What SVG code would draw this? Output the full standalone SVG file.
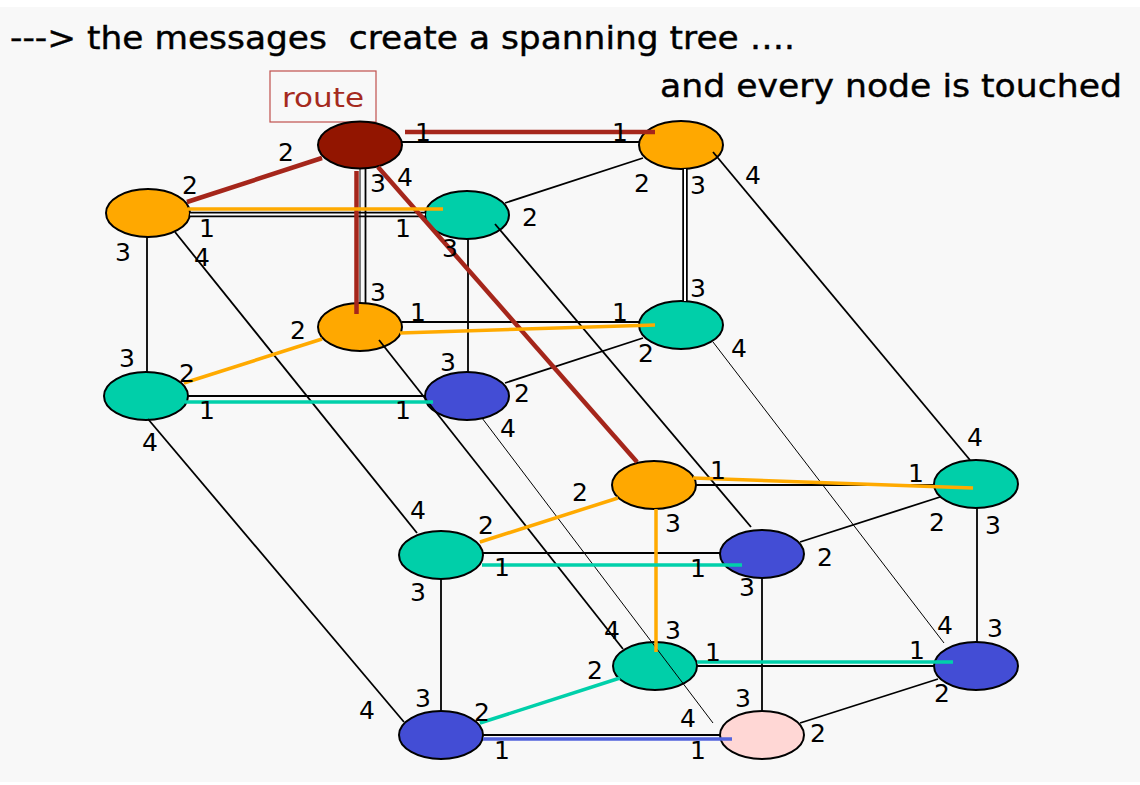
<svg xmlns="http://www.w3.org/2000/svg" width="1140" height="785" viewBox="0 0 1140 785">
<style>
.bg{fill:#f8f8f8}
.nd{stroke:#000;stroke-width:2}
.dr{fill:#921500}.or{fill:#ffa800}.gr{fill:#00cfa9}.bl{fill:#434dd5}.pk{fill:#ffd7d5}
.e{stroke:#000;stroke-width:1.8;fill:none}
.t{stroke:#000;stroke-width:1;fill:none}
.dbl{stroke:#000;stroke-width:5.5;fill:none}
.dblw{stroke:#fff;stroke-width:2;fill:none}
.r{stroke:#a5261b;stroke-width:4.5;fill:none}
.o{stroke:#ffaa00;stroke-width:3.5;fill:none}
.g{stroke:#00d0aa;stroke-width:3.5;fill:none}
.b{stroke:#5363dc;stroke-width:3.5;fill:none}
.lbl{font-family:"DejaVu Sans","Liberation Sans",sans-serif;font-size:25px;fill:#000;text-anchor:middle;dominant-baseline:central}
.title{font-family:"DejaVu Sans","Liberation Sans",sans-serif;font-size:32px;fill:#000;stroke:#000;stroke-width:0.4}
</style>
<rect x="0" y="0" width="1140" height="785" fill="#fff"/>
<rect class="bg" x="0" y="7" width="1140" height="775"/>

<g id="title">
<text class="title" x="10" y="49" textLength="785" lengthAdjust="spacingAndGlyphs" xml:space="preserve">---&gt; the messages  create a spanning tree ….</text>
<text class="title" x="660" y="97" textLength="462" lengthAdjust="spacingAndGlyphs">and every node is touched</text>
</g>

<g id="route-label">
<rect x="270" y="71" width="106" height="51" fill="none" stroke="#c0504d" stroke-width="1.2"/>
<text x="323" y="107" font-family="DejaVu Sans, Liberation Sans, sans-serif" font-size="26" fill="#a52a1e" text-anchor="middle" textLength="82" lengthAdjust="spacingAndGlyphs">route</text>
</g>

<g id="nodes">
<g id="nA"><ellipse class="nd dr" cx="360" cy="145" rx="42" ry="23.5"/></g>
<g id="nB"><ellipse class="nd or" cx="681" cy="145" rx="42" ry="24"/></g>
<g id="nC"><ellipse class="nd or" cx="148" cy="213" rx="42" ry="24"/></g>
<g id="nD"><ellipse class="nd gr" cx="467" cy="215" rx="42" ry="24"/></g>
<g id="nE"><ellipse class="nd or" cx="360" cy="327" rx="42" ry="24"/></g>
<g id="nF"><ellipse class="nd gr" cx="681" cy="325" rx="42" ry="24"/></g>
<g id="nG"><ellipse class="nd gr" cx="146" cy="396" rx="42" ry="24"/></g>
<g id="nH"><ellipse class="nd bl" cx="467" cy="396" rx="42" ry="24"/></g>
<g id="nI"><ellipse class="nd or" cx="654" cy="485" rx="42" ry="24"/></g>
<g id="nJ"><ellipse class="nd gr" cx="976" cy="484" rx="42" ry="24"/></g>
<g id="nK"><ellipse class="nd gr" cx="441" cy="555" rx="42" ry="24"/></g>
<g id="nL"><ellipse class="nd bl" cx="762" cy="554" rx="42" ry="24"/></g>
<g id="nM"><ellipse class="nd gr" cx="655" cy="666" rx="42" ry="24"/></g>
<g id="nN"><ellipse class="nd bl" cx="976" cy="666" rx="42" ry="24"/></g>
<g id="nO"><ellipse class="nd bl" cx="441" cy="735" rx="42" ry="24"/></g>
<g id="nP"><ellipse class="nd pk" cx="762" cy="735" rx="42" ry="24"/></g>
</g>

<g id="connectors">
<!-- dimension 1 -->
<line class="e" x1="402" y1="142" x2="639" y2="142"/>
<line class="dbl" x1="190" y1="214.5" x2="425" y2="214.5"/>
<line class="dblw" x1="190" y1="214.5" x2="425" y2="214.5"/>
<line class="e" x1="402" y1="322" x2="639" y2="322"/>
<line class="e" x1="188" y1="396" x2="425" y2="396"/>
<line class="e" x1="696" y1="485" x2="934" y2="485"/>
<line class="e" x1="483" y1="553" x2="720" y2="553"/>
<line class="e" x1="697" y1="666" x2="934" y2="666"/>
<line class="e" x1="483" y1="735" x2="721" y2="735"/>
<!-- dimension 2 -->
<line class="e" x1="322" y1="158" x2="187" y2="202"/>
<line class="e" x1="643" y1="158" x2="505" y2="203"/>
<line class="e" x1="322" y1="339" x2="184" y2="383"/>
<line class="e" x1="643" y1="338" x2="505" y2="383"/>
<line class="e" x1="618" y1="498" x2="480" y2="542"/>
<line class="e" x1="940" y1="497" x2="800" y2="542"/>
<line class="e" x1="620" y1="678" x2="480" y2="723"/>
<line class="e" x1="938" y1="679" x2="800" y2="723"/>
<!-- dimension 3 -->
<line class="t" x1="360" y1="168" x2="360" y2="303"/>
<line class="e" x1="365.5" y1="168" x2="365.5" y2="303"/>
<line class="dbl" x1="685" y1="169" x2="685" y2="301"/>
<line class="dblw" x1="685" y1="169" x2="685" y2="301"/>
<line class="e" x1="147" y1="237" x2="147" y2="372"/>
<line class="e" x1="468" y1="239" x2="468" y2="372"/>
<line class="e" x1="656" y1="509" x2="656" y2="642"/>
<line class="e" x1="977" y1="508" x2="977" y2="642"/>
<line class="e" x1="441" y1="579" x2="441" y2="711"/>
<line class="e" x1="762" y1="578" x2="762" y2="711"/>
<!-- dimension 4 -->
<line class="e" x1="378" y1="167" x2="637" y2="462"/>
<line class="e" x1="713" y1="152" x2="970" y2="460"/>
<line class="e" x1="175" y1="232" x2="417" y2="533"/>
<line class="e" x1="495" y1="224" x2="751" y2="527"/>
<line class="e" x1="379" y1="340" x2="623" y2="649"/>
<line class="t" x1="713" y1="342" x2="944" y2="643"/>
<line class="e" x1="148" y1="419" x2="404" y2="722"/>
<line class="t" x1="482" y1="418" x2="713" y2="723"/>
<!-- spanning tree: route (dark red) -->
<line class="r" x1="405" y1="132" x2="655" y2="132"/>
<line class="r" x1="322" y1="158" x2="187" y2="202"/>
<line class="r" x1="356.5" y1="171" x2="356.5" y2="314"/>
<line class="r" x1="378" y1="167" x2="637" y2="462"/>
<!-- orange -->
<line class="o" x1="188" y1="209" x2="443" y2="209"/>
<line class="o" x1="400" y1="333" x2="655" y2="325"/>
<line class="o" x1="322" y1="339" x2="184" y2="383"/>
<line class="o" x1="693" y1="478" x2="973" y2="488"/>
<line class="o" x1="618" y1="498" x2="480" y2="542"/>
<line class="o" x1="656" y1="509" x2="656" y2="652"/>
<!-- green -->
<line class="g" x1="185" y1="402" x2="433" y2="402"/>
<line class="g" x1="482" y1="565" x2="742" y2="565"/>
<line class="g" x1="697" y1="662" x2="953" y2="662"/>
<line class="g" x1="620" y1="678" x2="480" y2="723"/>
<!-- blue -->
<line class="b" x1="483" y1="739" x2="732" y2="739"/>
</g>

<g id="labels">
<text class="lbl" x="423" y="132">1</text>
<text class="lbl" x="286" y="152">2</text>
<text class="lbl" x="378" y="183">3</text>
<text class="lbl" x="405" y="177">4</text>
<text class="lbl" x="190" y="185">2</text>
<text class="lbl" x="207" y="228">1</text>
<text class="lbl" x="403" y="228">1</text>
<text class="lbl" x="530" y="217">2</text>
<text class="lbl" x="123" y="252">3</text>
<text class="lbl" x="202" y="257">4</text>
<text class="lbl" x="450" y="248">3</text>
<text class="lbl" x="620" y="132">1</text>
<text class="lbl" x="642" y="183">2</text>
<text class="lbl" x="698" y="185">3</text>
<text class="lbl" x="753" y="175">4</text>
<text class="lbl" x="698" y="288">3</text>
<text class="lbl" x="620" y="312">1</text>
<text class="lbl" x="739" y="348">4</text>
<text class="lbl" x="646" y="353">2</text>
<text class="lbl" x="378" y="292">3</text>
<text class="lbl" x="418" y="312">1</text>
<text class="lbl" x="298" y="330">2</text>
<text class="lbl" x="127" y="358">3</text>
<text class="lbl" x="187" y="373">2</text>
<text class="lbl" x="448" y="362">3</text>
<text class="lbl" x="207" y="410">1</text>
<text class="lbl" x="403" y="410">1</text>
<text class="lbl" x="522" y="393">2</text>
<text class="lbl" x="150" y="442">4</text>
<text class="lbl" x="508" y="428">4</text>
<text class="lbl" x="975" y="437">4</text>
<text class="lbl" x="718" y="470">1</text>
<text class="lbl" x="916" y="473">1</text>
<text class="lbl" x="580" y="492">2</text>
<text class="lbl" x="673" y="523">3</text>
<text class="lbl" x="937" y="522">2</text>
<text class="lbl" x="993" y="525">3</text>
<text class="lbl" x="825" y="557">2</text>
<text class="lbl" x="698" y="568">1</text>
<text class="lbl" x="747" y="587">3</text>
<text class="lbl" x="418" y="510">4</text>
<text class="lbl" x="486" y="525">2</text>
<text class="lbl" x="502" y="567">1</text>
<text class="lbl" x="418" y="592">3</text>
<text class="lbl" x="612" y="630">4</text>
<text class="lbl" x="673" y="630">3</text>
<text class="lbl" x="713" y="652">1</text>
<text class="lbl" x="595" y="670">2</text>
<text class="lbl" x="423" y="698">3</text>
<text class="lbl" x="482" y="712">2</text>
<text class="lbl" x="367" y="710">4</text>
<text class="lbl" x="743" y="698">3</text>
<text class="lbl" x="688" y="718">4</text>
<text class="lbl" x="818" y="733">2</text>
<text class="lbl" x="502" y="750">1</text>
<text class="lbl" x="698" y="750">1</text>
<text class="lbl" x="945" y="625">4</text>
<text class="lbl" x="995" y="628">3</text>
<text class="lbl" x="917" y="650">1</text>
<text class="lbl" x="942" y="693">2</text>
</g>
</svg>
